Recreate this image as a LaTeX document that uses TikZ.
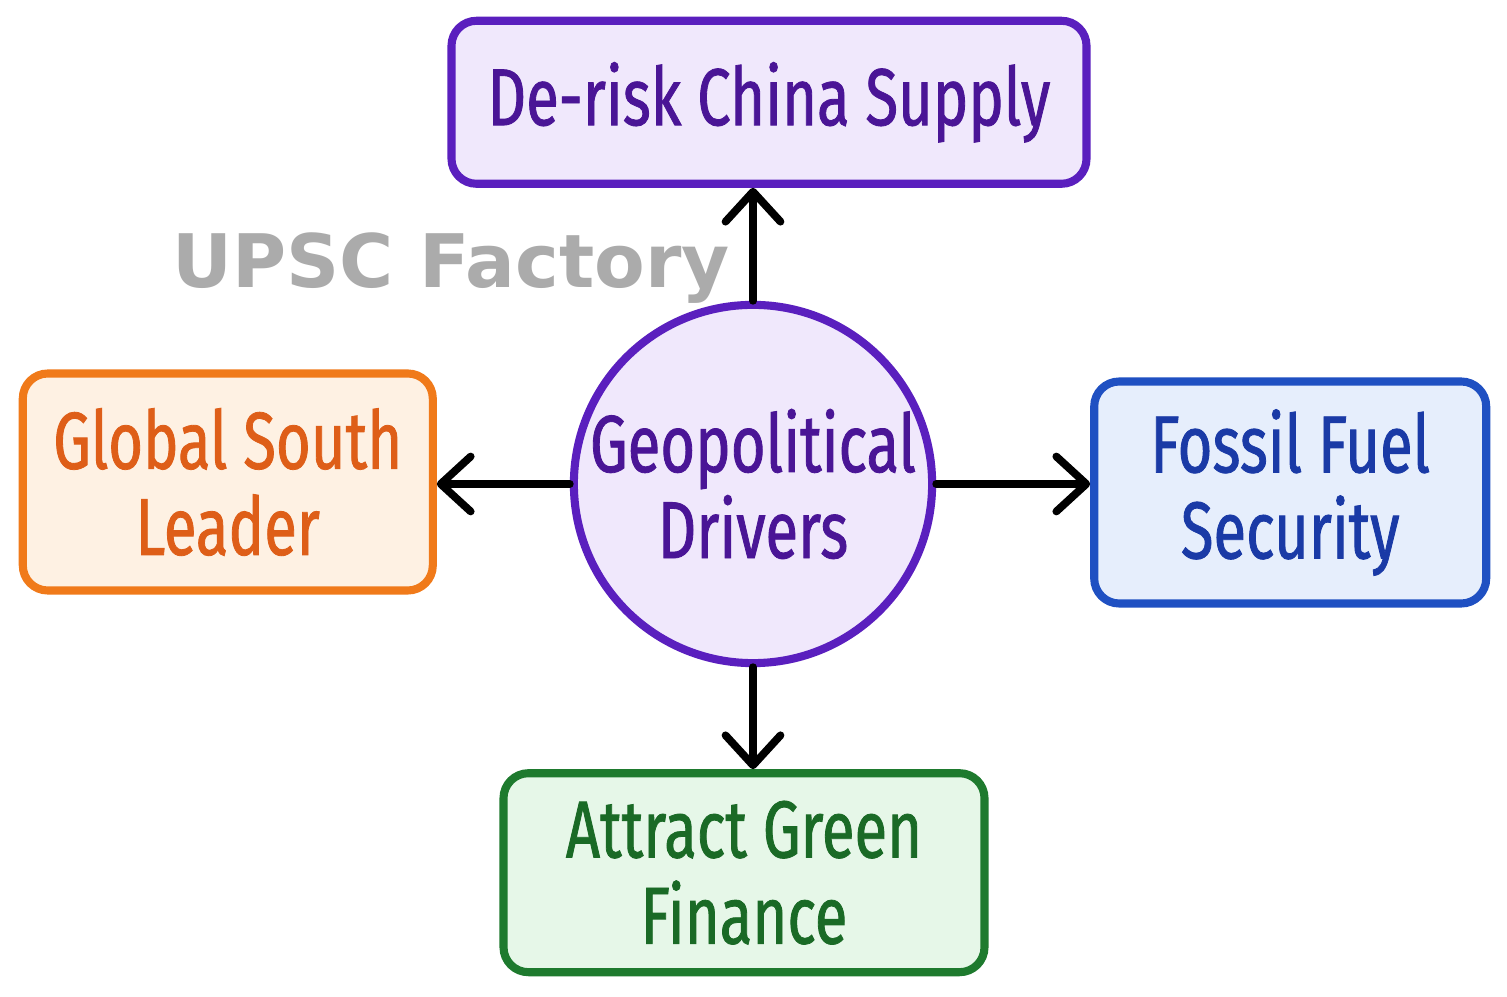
\documentclass[tikz,border=0pt]{standalone}
\usepackage{fontspec}
\setmainfont{Fira Sans}
\newfontfamily\handfont[FakeStretch=0.74, FakeBold=1]{Fira Sans}
\newfontfamily\markfont{DejaVu Sans}
\usetikzlibrary{positioning, arrows.meta}

\definecolor{purpleline}{HTML}{5A1FBE}
\definecolor{purplefill}{HTML}{F0E8FC}
\definecolor{purpletext}{HTML}{4A1596}
\definecolor{orangeline}{HTML}{F07A1A}
\definecolor{orangefill}{HTML}{FEF1E3}
\definecolor{orangetext}{HTML}{DE5E18}
\definecolor{blueline}{HTML}{1F50C2}
\definecolor{bluefill}{HTML}{E6EEFC}
\definecolor{bluetext}{HTML}{1A3AA6}
\definecolor{greenline}{HTML}{1E7A2E}
\definecolor{greenfill}{HTML}{E6F7E8}
\definecolor{greentext}{HTML}{1A6A26}

\begin{document}
\begin{tikzpicture}[
  every node/.style={align=center, font=\handfont\fontsize{46}{49}\selectfont},
  goalbox/.style={draw, line width=4.6pt, rounded corners=0.5cm, inner sep=0pt},
  arrow/.style={-{Straight Barb[length=6mm, width=11mm, line cap=round, line join=round]}, line width=4.4pt, line cap=round}
]
\useasboundingbox (0,0) rectangle (30.14,19.92);

\node[draw=purpleline, fill=purplefill, circle, line width=4.6pt, minimum size=6.9cm, inner sep=0pt, text=purpletext] (geo) at (15.06,10.24) {Geopolitical\\Drivers};

\node[goalbox, draw=purpleline, fill=purplefill, text=purpletext, minimum width=12.7cm, minimum height=3.26cm, above=2.26cm of geo, xshift=0.32cm] (derisk) {De-risk China Supply};
\node[goalbox, draw=orangeline, fill=orangefill, text=orangetext, minimum width=8.2cm, minimum height=4.34cm, left=2.66cm of geo, yshift=0.04cm] (south) {Global South\\Leader};
\node[goalbox, draw=blueline, fill=bluefill, text=bluetext, minimum width=7.84cm, minimum height=4.44cm, right=3.08cm of geo, yshift=-0.17cm] (fossil) {Fossil Fuel\\Security};
\node[goalbox, draw=greenline, fill=greenfill, text=greentext, minimum width=9.62cm, minimum height=3.98cm, below=2.04cm of geo, xshift=-0.18cm] (finance) {Attract Green\\Finance};

\node[font=\markfont\bfseries\fontsize{42}{46}\selectfont, text=black!33] (mark) at (9.02,14.56) {UPSC Factory};

\draw[arrow] (geo.north) -- (geo.north |- derisk.south);
\draw[arrow] (geo.west) -- (geo.west -| south.east);
\draw[arrow] (geo.east) -- (geo.east -| fossil.west);
\draw[arrow] (geo.south) -- (geo.south |- finance.north);
\end{tikzpicture}
\end{document}
